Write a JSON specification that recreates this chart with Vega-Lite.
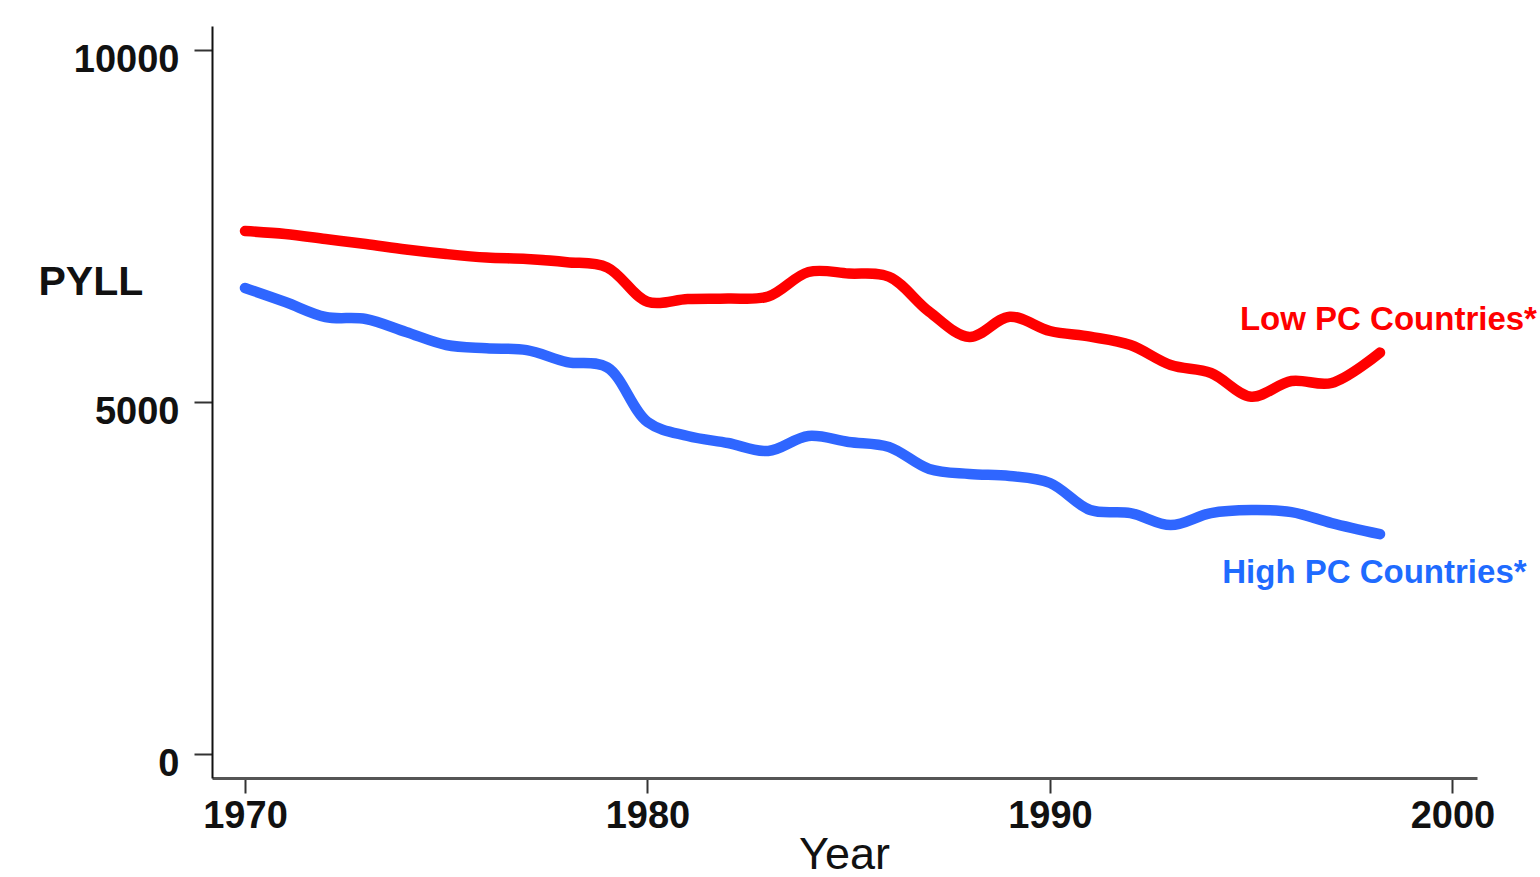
{
  "$schema": "https://vega.github.io/schema/vega-lite/v6.json",
  "autosize": {"type": "none"},
  "width": 1265,
  "height": 752,
  "padding": {"left": 212, "top": 26, "right": 63, "bottom": 99},
  "background": "white",
  "config": {"view": {"stroke": null}, "font": "Liberation Sans"},
  "datasets": {
    "series": [
      {"year": 1970, "pyll": 7427, "group": "Low PC Countries*"},
      {"year": 1971, "pyll": 7385, "group": "Low PC Countries*"},
      {"year": 1972, "pyll": 7314, "group": "Low PC Countries*"},
      {"year": 1973, "pyll": 7243, "group": "Low PC Countries*"},
      {"year": 1974, "pyll": 7165, "group": "Low PC Countries*"},
      {"year": 1975, "pyll": 7101, "group": "Low PC Countries*"},
      {"year": 1976, "pyll": 7051, "group": "Low PC Countries*"},
      {"year": 1977, "pyll": 7030, "group": "Low PC Countries*"},
      {"year": 1978, "pyll": 6985, "group": "Low PC Countries*"},
      {"year": 1979, "pyll": 6910, "group": "Low PC Countries*"},
      {"year": 1980, "pyll": 6423, "group": "Low PC Countries*"},
      {"year": 1981, "pyll": 6462, "group": "Low PC Countries*"},
      {"year": 1982, "pyll": 6469, "group": "Low PC Countries*"},
      {"year": 1983, "pyll": 6497, "group": "Low PC Countries*"},
      {"year": 1984, "pyll": 6845, "group": "Low PC Countries*"},
      {"year": 1985, "pyll": 6824, "group": "Low PC Countries*"},
      {"year": 1986, "pyll": 6778, "group": "Low PC Countries*"},
      {"year": 1987, "pyll": 6281, "group": "Low PC Countries*"},
      {"year": 1988, "pyll": 5922, "group": "Low PC Countries*"},
      {"year": 1989, "pyll": 6210, "group": "Low PC Countries*"},
      {"year": 1990, "pyll": 6007, "group": "Low PC Countries*"},
      {"year": 1991, "pyll": 5926, "group": "Low PC Countries*"},
      {"year": 1992, "pyll": 5808, "group": "Low PC Countries*"},
      {"year": 1993, "pyll": 5524, "group": "Low PC Countries*"},
      {"year": 1994, "pyll": 5410, "group": "Low PC Countries*"},
      {"year": 1995, "pyll": 5073, "group": "Low PC Countries*"},
      {"year": 1996, "pyll": 5296, "group": "Low PC Countries*"},
      {"year": 1997, "pyll": 5268, "group": "Low PC Countries*"},
      {"year": 1998.2, "pyll": 5700, "group": "Low PC Countries*"},
      {"year": 1970, "pyll": 6618, "group": "High PC Countries*"},
      {"year": 1971, "pyll": 6419, "group": "High PC Countries*"},
      {"year": 1972, "pyll": 6206, "group": "High PC Countries*"},
      {"year": 1973, "pyll": 6178, "group": "High PC Countries*"},
      {"year": 1974, "pyll": 5993, "group": "High PC Countries*"},
      {"year": 1975, "pyll": 5808, "group": "High PC Countries*"},
      {"year": 1976, "pyll": 5761, "group": "High PC Countries*"},
      {"year": 1977, "pyll": 5735, "group": "High PC Countries*"},
      {"year": 1978, "pyll": 5566, "group": "High PC Countries*"},
      {"year": 1979, "pyll": 5490, "group": "High PC Countries*"},
      {"year": 1980, "pyll": 4714, "group": "High PC Countries*"},
      {"year": 1981, "pyll": 4515, "group": "High PC Countries*"},
      {"year": 1982, "pyll": 4415, "group": "High PC Countries*"},
      {"year": 1983, "pyll": 4302, "group": "High PC Countries*"},
      {"year": 1984, "pyll": 4515, "group": "High PC Countries*"},
      {"year": 1985, "pyll": 4430, "group": "High PC Countries*"},
      {"year": 1986, "pyll": 4359, "group": "High PC Countries*"},
      {"year": 1987, "pyll": 4046, "group": "High PC Countries*"},
      {"year": 1988, "pyll": 3975, "group": "High PC Countries*"},
      {"year": 1989, "pyll": 3946, "group": "High PC Countries*"},
      {"year": 1990, "pyll": 3847, "group": "High PC Countries*"},
      {"year": 1991, "pyll": 3463, "group": "High PC Countries*"},
      {"year": 1992, "pyll": 3420, "group": "High PC Countries*"},
      {"year": 1993, "pyll": 3249, "group": "High PC Countries*"},
      {"year": 1994, "pyll": 3420, "group": "High PC Countries*"},
      {"year": 1995, "pyll": 3463, "group": "High PC Countries*"},
      {"year": 1996, "pyll": 3434, "group": "High PC Countries*"},
      {"year": 1997, "pyll": 3278, "group": "High PC Countries*"},
      {"year": 1998.2, "pyll": 3120, "group": "High PC Countries*"}
    ],
    "labels": [
      {"year": 1994.72, "pyll": 6163, "group": "Low PC Countries*"},
      {"year": 1994.28, "pyll": 2561, "group": "High PC Countries*"}
    ]
  },
  "layer": [
    {
      "data": {"name": "series"},
      "mark": {"type": "line", "strokeWidth": 10.5, "interpolate": "catmull-rom", "strokeCap": "round", "strokeJoin": "round"},
      "encoding": {
        "x": {
          "field": "year", "type": "quantitative",
          "scale": {"domain": [1969.18, 2000.61], "nice": false, "zero": false},
          "axis": {
            "values": [1970, 1980, 1990, 2000], "format": "d", "grid": false,
            "tickSize": 15, "tickWidth": 2, "tickColor": "#333333",
            "domainColor": "#555555", "domainWidth": 3,
            "labelFontSize": 38, "labelFontWeight": "bold", "labelColor": "#111111",
            "labelPadding": 4, "labelFlush": false,
            "title": "Year", "titleFontSize": 45, "titleFontWeight": "normal", "titleColor": "#111111",
            "titleBaseline": "alphabetic", "titleY": 90, "titleX": 632
          }
        },
        "y": {
          "field": "pyll", "type": "quantitative",
          "scale": {"domain": [-345, 10341], "nice": false, "zero": false},
          "axis": {
            "values": [0, 5000, 10000], "format": "d", "grid": false,
            "tickSize": 18, "tickWidth": 2, "tickColor": "#333333",
            "domainColor": "#111111", "domainWidth": 2,
            "labelFontSize": 38, "labelFontWeight": "bold", "labelColor": "#111111",
            "labelPadding": 15, "labelOffset": 11, "labelBaseline": "middle", "labelFlush": false,
            "title": "PYLL", "titleAngle": 0, "titleAlign": "left", "titleBaseline": "middle",
            "titleX": -174, "titleY": 256, "titleFontSize": 41, "titleFontWeight": "bold", "titleColor": "#111111"
          }
        },
        "color": {
          "field": "group", "type": "nominal",
          "scale": {"domain": ["Low PC Countries*", "High PC Countries*"], "range": ["#ff0000", "#2f66ff"]},
          "legend": null
        }
      }
    },
    {
      "data": {"name": "labels"},
      "mark": {"type": "text", "align": "left", "baseline": "middle", "fontSize": 33, "fontWeight": "bold", "font": "Liberation Sans"},
      "encoding": {
        "x": {"field": "year", "type": "quantitative"},
        "y": {"field": "pyll", "type": "quantitative"},
        "text": {"field": "group"},
        "color": {
          "field": "group", "type": "nominal",
          "scale": {"domain": ["Low PC Countries*", "High PC Countries*"], "range": ["#ff0000", "#1f6bff"]},
          "legend": null
        }
      }
    }
  ],
  "resolve": {"scale": {"color": "independent"}}
}
